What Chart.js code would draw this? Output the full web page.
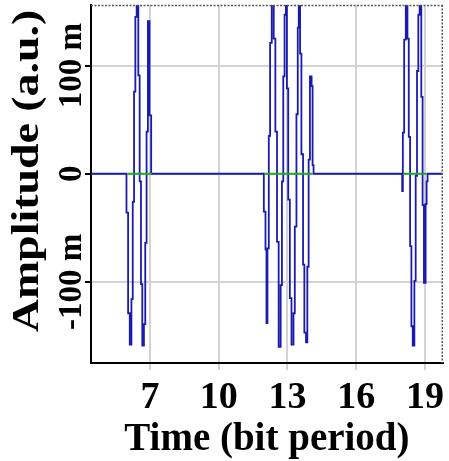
<!DOCTYPE html>
<html lang="en">
<head>
  <meta charset="UTF-8">
  <title>Amplitude vs Time</title>
  <script src="https://cdn.jsdelivr.net/npm/chart.js"></script>
  <style>
    body { margin: 0; background: #fff; }
    #wrap { width: 449px; height: 461px; }
  </style>
</head>
<body>
  <div id="wrap">
    <canvas id="chart" width="449" height="461"></canvas>
  </div>

  <script>
    // axis range + ticks
    const xRange = [4.43, 19.78];
    const yRange = [-175, 156];
    const xTicks = [7, 10, 13, 16, 19];
    const yTicks = [-100, 0, 100];
    const yTickLabels = ['-100 m', '0', '100 m'];

    // bursts: time where the level changes, and the level (milli a.u.)
    const burst1T = [5.978, 6.050, 6.122, 6.194, 6.251, 6.309, 6.366, 6.423, 6.495, 6.553, 6.611, 6.668, 6.740, 6.797, 6.855, 6.912, 6.984, 7.056];
    const burst1A = [-36, -129, -158, -116, -26, 76, 145, 175, 91, -7, -102, -159, -139, -64, 39, 141, 54, 0];

    const burst2T = [11.972, 12.044, 12.087, 12.130, 12.188, 12.245, 12.317, 12.403, 12.475, 12.547, 12.619, 12.705, 12.762, 12.820, 12.877, 12.935, 12.978, 13.036, 13.107, 13.179, 13.266, 13.323, 13.395, 13.452, 13.496, 13.553, 13.611, 13.683, 13.740, 13.812, 13.870, 13.927, 13.984, 14.056, 14.099, 14.142];
    const burst2A = [-35, -70, -138, -69, 35, 121, 175, 125, 39, -63, -160, -103, -7, 90, 147, 175, 79, -24, -115, -158, -129, -49, 55, 135, 175, 111, 18, -84, -147, -156, -86, 13, 90, 81, 8, 0];

    const burst3T = [18.009, 18.038, 18.095, 18.167, 18.239, 18.296, 18.354, 18.411, 18.469, 18.541, 18.598, 18.656, 18.713, 18.771, 18.843, 18.900, 18.958, 19.031, 19.074, 19.117];
    const burst3A = [-16, 38, 124, 175, 125, 34, -67, -141, -159, -99, -2, 95, 147, 175, 71, -29, -101, -28, -7, 0];

    // green reference segments at zero during each burst
    const greenStart = [6.03, 12.0, 18.06];
    const greenEnd = [7.08, 14.08, 19.07];

    const bluePts = [{ x: xRange[0], y: 0 }];
    [[burst1T, burst1A], [burst2T, burst2A], [burst3T, burst3A]].forEach(([t, a]) => {
      t.forEach((v, i) => bluePts.push({ x: v, y: a[i] }));
    });
    bluePts.push({ x: xRange[1], y: 0 });

    const greenPts = [];
    greenStart.forEach((s, i) => {
      if (i > 0) greenPts.push({ x: (greenEnd[i - 1] + s) / 2, y: null });
      greenPts.push({ x: s, y: 0 }, { x: greenEnd[i], y: 0 });
    });

    const serif = 'Liberation Serif';

    // frame lines, rotated y labels and y title
    const extras = {
      id: 'extras',
      afterDraw(chart) {
        const { ctx, chartArea: a } = chart;
        const y = chart.scales.y;
        ctx.save();
        ctx.strokeStyle = '#555';
        ctx.lineWidth = 1.5;
        ctx.setLineDash([2, 1.5]);
        ctx.beginPath();
        ctx.moveTo(a.left, a.top + 0.5);
        ctx.lineTo(a.right, a.top + 0.5);
        ctx.moveTo(a.right - 0.5, a.top);
        ctx.lineTo(a.right - 0.5, a.bottom);
        ctx.stroke();
        ctx.setLineDash([]);

        ctx.fillStyle = '#000';
        ctx.textAlign = 'center';
        ctx.textBaseline = 'middle';
        ctx.font = 'bold 33px "' + serif + '"';
        yTicks.forEach((v, i) => {
          ctx.save();
          ctx.translate(72, y.getPixelForValue(v));
          ctx.rotate(-Math.PI / 2);
          ctx.fillText(yTickLabels[i], 0, 0);
          ctx.restore();
        });

        ctx.font = 'bold 37px "' + serif + '"';
        ctx.translate(28, 171);
        ctx.rotate(-Math.PI / 2);
        ctx.scale(1.24, 1);
        ctx.fillText('Amplitude (a.u.)', 0, 0);
        ctx.restore();
      }
    };

    new Chart(document.getElementById('chart'), {
      type: 'line',
      data: {
        datasets: [
          {
            data: greenPts,
            borderColor: '#1faa1f',
            borderWidth: 2,
            pointRadius: 0,
            spanGaps: false,
          },
          {
            data: bluePts,
            borderColor: '#1a1ab0',
            borderWidth: 1.8,
            pointRadius: 0,
            stepped: true,
          },
        ],
      },
      options: {
        responsive: false,
        animation: false,
        devicePixelRatio: 1,
        layout: { padding: { left: 0, right: 2, top: 5, bottom: 0 } },
        plugins: { legend: { display: false }, tooltip: { enabled: false } },
        scales: {
          x: {
            type: 'linear',
            min: xRange[0],
            max: xRange[1],
            afterBuildTicks: s => { s.ticks = xTicks.map(v => ({ value: v })); },
            afterFit: s => { s.height = 98; },
            ticks: {
              color: '#000',
              padding: 5,
              maxRotation: 0,
              font: { family: serif, size: 38, weight: 'bold' },
            },
            grid: { color: '#d3d3d3', lineWidth: 2, tickLength: 7, tickColor: '#d3d3d3' },
            border: { color: '#000', width: 2 },
            title: {
              display: true,
              text: 'Time (bit period)',
              color: '#000',
              padding: { top: 0, bottom: -2 },
              font: { family: serif, size: 39, weight: 'bold' },
            },
          },
          y: {
            type: 'linear',
            min: yRange[0],
            max: yRange[1],
            afterBuildTicks: s => { s.ticks = yTicks.map(v => ({ value: v })); },
            afterFit: s => { s.width = 91; },
            ticks: { display: false },
            grid: { color: '#d3d3d3', lineWidth: 2, tickLength: 6, tickColor: '#000' },
            border: { color: '#000', width: 2 },
          },
        },
      },
      plugins: [extras],
    });
  </script>
</body>
</html>
